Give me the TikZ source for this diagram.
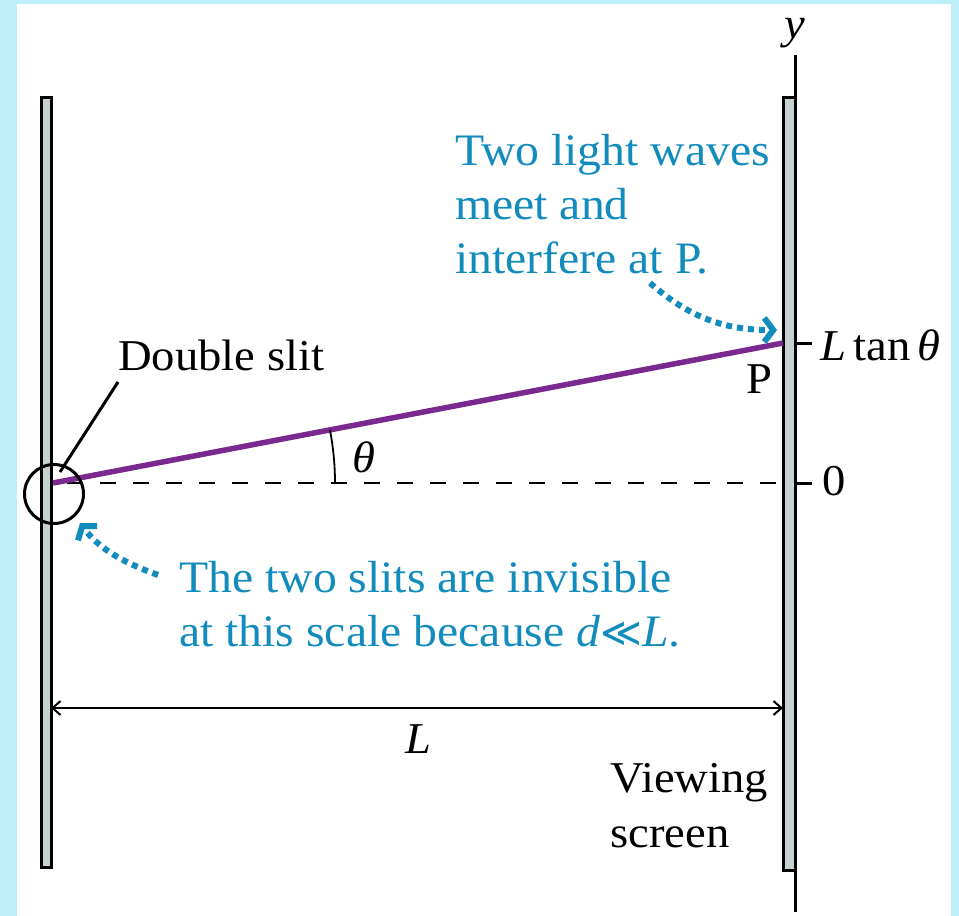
\documentclass[tikz,border=0pt]{standalone}
\usepackage{fontspec}
\setmainfont[FakeStretch=1.06]{Liberation Serif}
\newfontfamily\opsymfont{DejaVu Sans}
\usetikzlibrary{arrows.meta}
\definecolor{bgcyan}{RGB}{190,238,250}
\definecolor{capblue}{RGB}{18,139,189}
\definecolor{raypurple}{RGB}{122,42,142}
\definecolor{screengray}{RGB}{196,210,210}
\begin{document}
\begin{tikzpicture}[x=1pt,y=-1pt,
  lbl/.style={inner sep=0pt, font=\fontsize{44}{55}\selectfont},
  note/.style={inner sep=0pt, text=capblue, align=left, font=\fontsize{45}{54}\selectfont},
  dotarrow/.style={capblue, line width=6pt, dash pattern=on 6pt off 5pt,
    -{Straight Barb[length=9pt,width=24pt,line width=6pt]}},
  screenbox/.style={fill=screengray, draw=black, line width=3pt},
  blk/.style={line width=3pt}]
% background
\fill[bgcyan] (0,0) rectangle (959,916);
\fill[white] (17,4) rectangle (951,916);
\useasboundingbox (0,0) rectangle (959,916);
% coordinates
\coordinate (O) at (53,483);
\coordinate (P) at (783,343);
\coordinate (Z) at (783,483);
\coordinate (AxT) at (795,55);
\coordinate (AxB) at (795,912);
\coordinate (T1a) at (795,343);
\coordinate (T1b) at (812,343);
\coordinate (T0a) at (795,483);
\coordinate (T0b) at (812,483);
\coordinate (DL) at (51,708);
\coordinate (DR) at (783,708);
\coordinate (C) at (54,494);
\coordinate (ArcS) at (335,483);
% axis line (dashed)
\draw[line width=2.2pt, dash pattern=on 16pt off 17pt, dash phase=-14pt] (O) -- (Z);
% screens
\draw[screenbox] (41,97) rectangle (51,867);
\draw[screenbox] (783,97) rectangle (795,870);
\draw[blk] (AxT) -- (AxB);
\draw[blk] (T1a) -- (T1b);
\draw[blk] (T0a) -- (T0b);
% ray
\draw[raypurple, line width=5.5pt] (O) -- (P);
% angle arc
\draw[line width=1.8pt] (ArcS) arc[start angle=0, end angle=-10.86, radius=282];
% double slit circle and leader
\draw[blk] (C) circle[radius=29.5];
\coordinate (Lead) at (60,472);
% dimension line
\draw[line width=2pt, {Straight Barb[length=8pt,width=14pt]}-{Straight Barb[length=8pt,width=14pt]}] (DL) -- (DR);
% labels
\node[lbl, anchor=base west] (ds) at (118,370) {Double slit};
\coordinate (LeadTop) at (118,382);
\draw[blk] (LeadTop) -- (Lead);
\node[lbl, anchor=base west] (pl) at (746,393) {P};
\node[lbl, anchor=base west] (ltan) at (820,360) {\textit{L}\,tan\,\textit{θ}};
\node[lbl, anchor=base west] (zero) at (822,495) {0};
\node[lbl, anchor=base west] (th) at (352,472) {\textit{θ}};
\node[lbl, anchor=base] (ylab) at (795,38) {\textit{y}};
\node[lbl, anchor=base west] (Ldim) at (405,753) {\textit{L}};
\node[lbl, anchor=north west, align=left] (vs) at (610,753.5) {\strut Viewing\\screen};
\node[note, anchor=north west] (n1) at (455,127) {\strut Two light waves\\meet and\\interfere at P.};
\node[note, anchor=north west] (n2) at (179,554) {\strut The two slits are invisible\\at this scale because \textit{d}{\opsymfont\fontsize{40}{54}\selectfont ≪}\textit{L}.};
% dotted arrows
\coordinate (A1s) at (650,283);
\coordinate (A1e) at (777,330);
\draw[dotarrow] (A1s) .. controls (690,318) and (725,330) .. (A1e);
\coordinate (A2s) at (158,575);
\coordinate (A2e) at (80,523);
\draw[dotarrow] (A2s) .. controls (125,563) and (100,550) .. (A2e);
\end{tikzpicture}
\end{document}
